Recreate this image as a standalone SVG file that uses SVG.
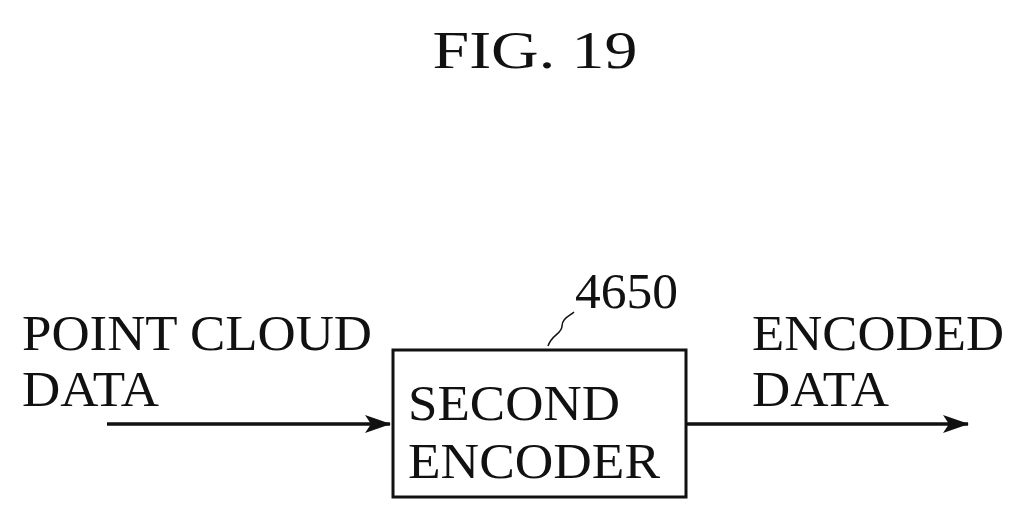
<svg xmlns="http://www.w3.org/2000/svg" width="1026" height="523" viewBox="0 0 1026 523">
<defs>
<style>
text{font-family:"Liberation Serif","DejaVu Serif",serif;fill:#111}
.t{font-size:50px}
.line{stroke:#111;stroke-width:3.5;fill:none}
</style>
<marker id="ah" markerWidth="26" markerHeight="18" refX="25" refY="9" orient="auto" markerUnits="userSpaceOnUse">
<path d="M0,0 L26,9 L0,18 L6,9 Z" fill="#111"/>
</marker>
</defs>
<rect width="1026" height="523" fill="#fff"/>
<text x="535" y="68" font-size="52" text-anchor="middle" textLength="205" lengthAdjust="spacingAndGlyphs">FIG. 19</text>
<g id="connectors">
<line class="line" x1="107" y1="424" x2="390" y2="424" marker-end="url(#ah)"/>
<line class="line" x1="686" y1="424" x2="968" y2="424" marker-end="url(#ah)"/>
<path d="M548,346 C552,334 562,334 562,326 C562,318 570,316 574,312" stroke="#111" stroke-width="1.5" fill="none"/>
</g>
<g id="input"><text class="t" x="22" y="350" textLength="350" lengthAdjust="spacingAndGlyphs">POINT CLOUD</text><text class="t" x="22" y="406" textLength="137" lengthAdjust="spacingAndGlyphs">DATA</text></g>
<g id="encoder">
<rect x="393" y="350" width="293" height="147" fill="none" stroke="#111" stroke-width="3"/>
<text class="t" x="408" y="420" textLength="212" lengthAdjust="spacingAndGlyphs">SECOND</text><text class="t" x="408" y="478" textLength="252" lengthAdjust="spacingAndGlyphs">ENCODER</text>
<text class="t" x="575" y="308" textLength="103" lengthAdjust="spacingAndGlyphs">4650</text>
</g>
<g id="output"><text class="t" x="752" y="350" textLength="252" lengthAdjust="spacingAndGlyphs">ENCODED</text><text class="t" x="752" y="406" textLength="137" lengthAdjust="spacingAndGlyphs">DATA</text></g>
</svg>
